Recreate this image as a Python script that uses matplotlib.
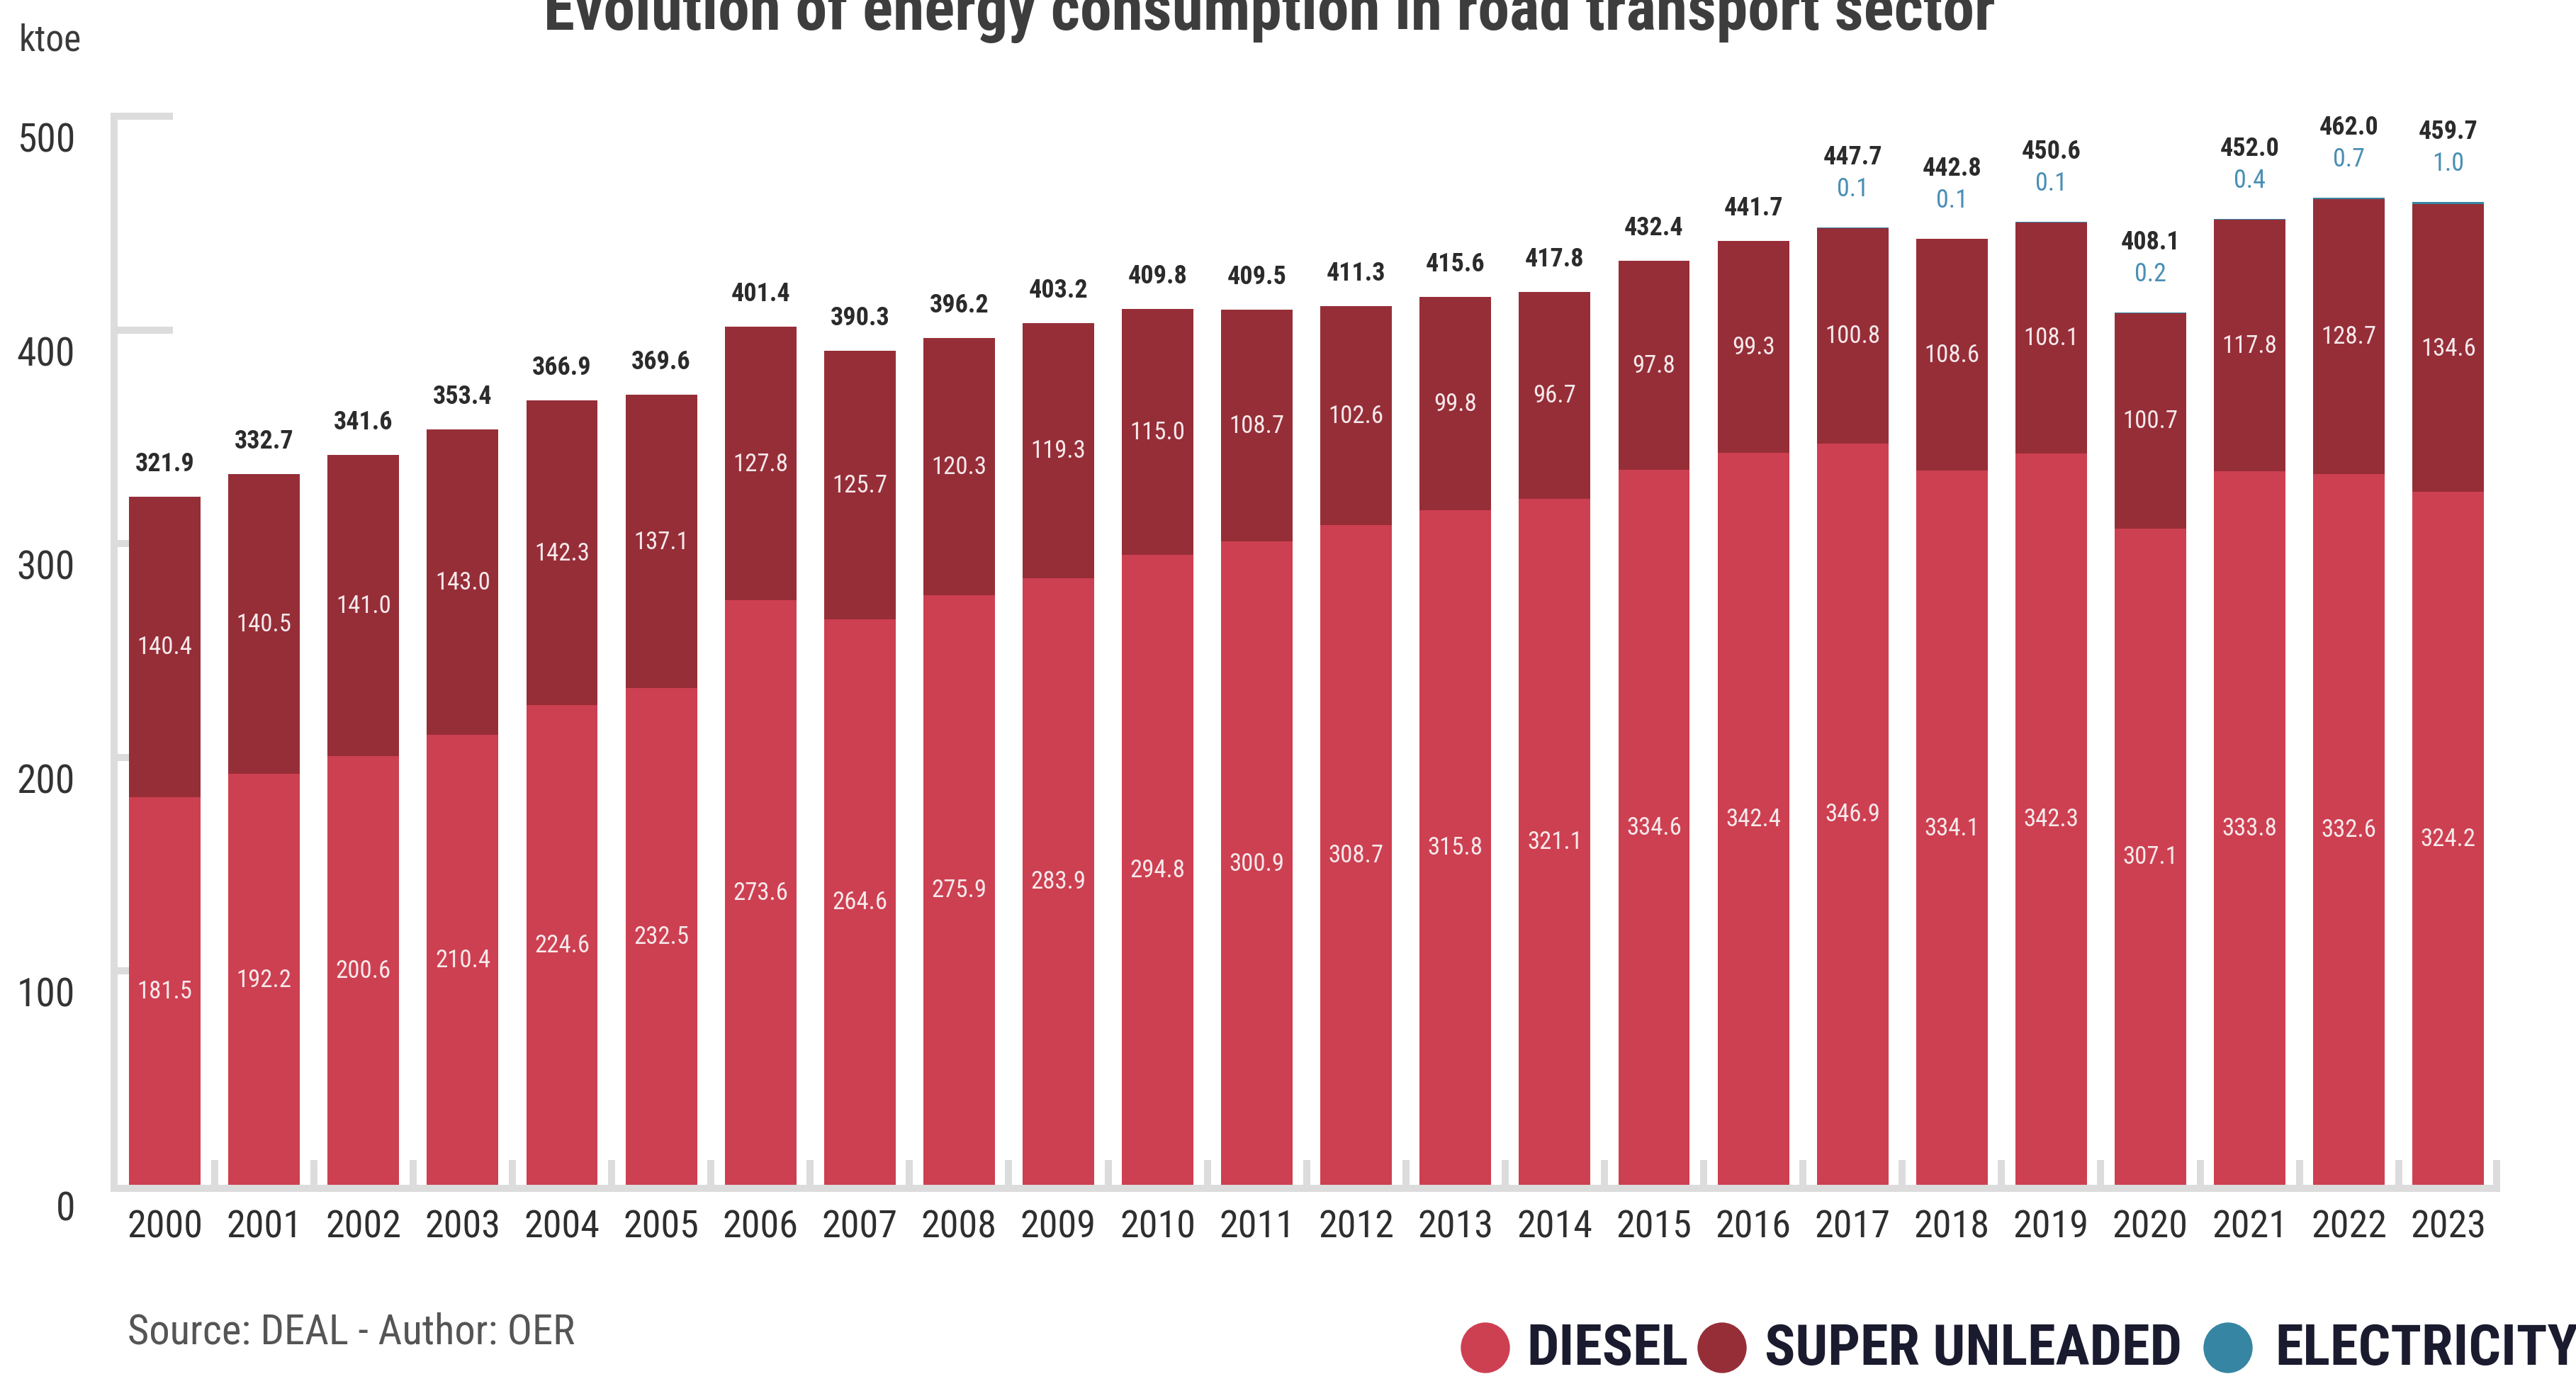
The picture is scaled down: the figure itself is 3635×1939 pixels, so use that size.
import numpy as np
import matplotlib
matplotlib.use("Agg")
import matplotlib.pyplot as plt
from matplotlib import font_manager as fm
from matplotlib.patches import Ellipse

# ---- data (ktoe) ----
years = ["2000", "2001", "2002", "2003", "2004", "2005", "2006", "2007",
         "2008", "2009", "2010", "2011", "2012", "2013", "2014", "2015",
         "2016", "2017", "2018", "2019", "2020", "2021", "2022", "2023"]
diesel = [181.5, 192.2, 200.6, 210.4, 224.6, 232.5, 273.6, 264.6,
          275.9, 283.9, 294.8, 300.9, 308.7, 315.8, 321.1, 334.6,
          342.4, 346.9, 334.1, 342.3, 307.1, 333.8, 332.6, 324.2]
super_unleaded = [140.4, 140.5, 141.0, 143.0, 142.3, 137.1, 127.8, 125.7,
                  120.3, 119.3, 115.0, 108.7, 102.6, 99.8, 96.7, 97.8,
                  99.3, 100.8, 108.6, 108.1, 100.7, 117.8, 128.7, 134.6]
electricity = [0.0, 0.0, 0.0, 0.0, 0.0, 0.0, 0.0, 0.0,
               0.0, 0.0, 0.0, 0.0, 0.0, 0.0, 0.0, 0.0,
               0.0, 0.1, 0.1, 0.1, 0.2, 0.4, 0.7, 1.0]
totals = [321.9, 332.7, 341.6, 353.4, 366.9, 369.6, 401.4, 390.3,
          396.2, 403.2, 409.8, 409.5, 411.3, 415.6, 417.8, 432.4,
          441.7, 447.7, 442.8, 450.6, 408.1, 452.0, 462.0, 459.7]
y_ticks = [0, 100, 200, 300, 400, 500]
series_names = ["DIESEL", "SUPER UNLEADED", "ELECTRICITY"]

# ---- style ----
W, H, DPI = 3635, 1940, 100
PT = 72 / DPI                      # points per pixel
C_DIESEL = "#cd4051"
C_SUPER = "#962e38"
C_ELEC = "#3685a3"
C_ELEC_TXT = "#4a8fb5"
GRAY = "#dcdcdc"

available = {f.name for f in fm.fontManager.ttflist}


def pick(cands):
    for c in cands:
        if c in available:
            return c
    return "DejaVu Sans"


FONT = pick(["Liberation Sans Narrow", "Roboto Condensed", "Open Sans Condensed",
             "DejaVu Sans"])
plt.rcParams["font.family"] = [FONT, "DejaVu Sans"]
plt.rcParams["font.stretch"] = "condensed"

fig = plt.figure(figsize=(W / DPI, H / DPI), dpi=DPI)
fig.patch.set_facecolor("white")
ax = fig.add_axes([164 / W, 1 - 1673 / H, (3529 - 164) / W, (1673 - 165) / H])
ax.set_xlim(-0.49, 23.53)
ax.set_ylim(0, 500)
for s in ax.spines.values():
    s.set_visible(False)
ax.set_yticks([])

x = np.arange(len(years))
d = np.array(diesel)
s = np.array(super_unleaded)
e = np.array(electricity)
bw = 0.72
ax.bar(x, d, bw, color=C_DIESEL, zorder=3, label=series_names[0])
ax.bar(x, s, bw, bottom=d, color=C_SUPER, zorder=3, label=series_names[1])
ax.bar(x, e, bw, bottom=d + s, color=C_ELEC, zorder=3, label=series_names[2])

# axis frame: bracket-style left axis with short ticks, thick baseline
LW = 10 * PT
base_y = -1.66
ax.plot([-0.51, -0.51], [base_y, 500], color=GRAY, lw=LW,
        solid_capstyle="projecting", clip_on=False, zorder=1)
ax.plot([-0.51, 23.49], [base_y, base_y], color=GRAY, lw=LW,
        solid_capstyle="projecting", clip_on=False, zorder=1)
for v in y_ticks[1:]:
    ax.plot([-0.51, 0.08], [v, v], color=GRAY, lw=LW,
            solid_capstyle="butt", clip_on=False, zorder=1)
for xt in list(np.arange(0.5, len(years) - 1, 1.0)) + [23.49]:
    ax.plot([xt, xt], [base_y, 11.5], color=GRAY, lw=LW,
            solid_capstyle="butt", clip_on=False, zorder=1)

# y tick labels, set just below each tick mark
for v in y_ticks:
    ax.annotate(str(v), xy=(-0.903, v), xytext=(0, -34 * PT),
                textcoords="offset points", ha="right", va="center",
                fontsize=40, color="#333333", annotation_clip=False)

# year labels
ax.set_xticks(x, labels=years, va="center", fontsize=39, color="#2e2e2e")
ax.tick_params(axis="x", length=0, pad=59 * PT)

# segment values
for i in range(len(years)):
    ax.text(x[i], d[i] / 2, f"{diesel[i]:.1f}", ha="center", va="center",
            fontsize=25, color="#f6e9eb", zorder=4)
    ax.text(x[i], d[i] + s[i] / 2, f"{super_unleaded[i]:.1f}", ha="center",
            va="center", fontsize=25, color="#f6e9eb", zorder=4)
    top = d[i] + s[i] + e[i]
    if e[i] > 0:
        ax.annotate(f"{electricity[i]:.1f}", xy=(x[i], top), xytext=(0, 55 * PT),
                    textcoords="offset points", ha="center", va="center",
                    fontsize=26, color=C_ELEC_TXT, annotation_clip=False)
        off = 100
    else:
        off = 47
    ax.annotate(f"{totals[i]:.1f}", xy=(x[i], top), xytext=(0, off * PT),
                textcoords="offset points", ha="center", va="center",
                fontsize=26, fontweight="bold", color="#2b2b2b",
                annotation_clip=False)

renderer = fig.canvas.get_renderer()


def fit_width(t, target_px):
    w = t.get_window_extent(renderer).width
    t.set_fontsize(t.get_fontsize() * target_px / w)


# title (runs off the top edge)
title = fig.text(1791 / W, 1 - 42 / H,
                 "Evolution of energy consumption in road transport sector",
                 ha="center", va="baseline", fontsize=50, fontweight="bold",
                 color="#3d3d3d")
fit_width(title, 2052)

fig.text(27 / W, 1 - 57 / H, "ktoe", ha="left", va="center", fontsize=37,
         color="#3a3a3a")

src = fig.text(180 / W, 1 - 1880 / H, "Source: DEAL - Author: OER", ha="left",
               va="center", fontsize=38, color="#555555")
fit_width(src, 631)

# legend row, bottom right
leg_y = 1 - 1905 / H
leg_items = [(2096, 2154, C_DIESEL), (2430, 2490, C_SUPER), (3144, 3210, C_ELEC)]
texts = []
for (cx, tx, col), name in zip(leg_items, series_names):
    fig.add_artist(Ellipse((cx / W, 1 - 1903 / H), 68 / W, 70 / H,
                           transform=fig.transFigure, color=col))
    texts.append(fig.text(tx / W, leg_y, name, ha="left", va="center",
                          fontsize=54, fontweight="bold", color="#1b1b2f"))
fit_width(texts[1], 589)
for t in (texts[0], texts[2]):
    t.set_fontsize(texts[1].get_fontsize())

fig.savefig("out.png", dpi=DPI, facecolor="white")
